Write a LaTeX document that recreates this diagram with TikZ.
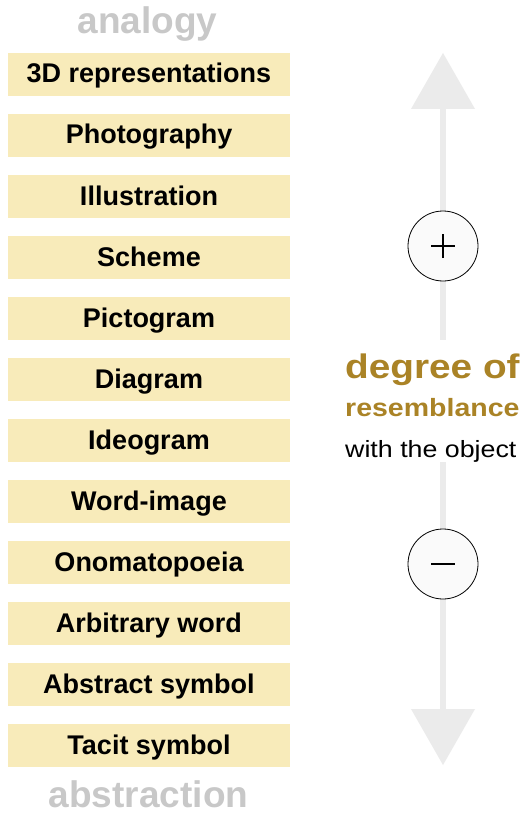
\documentclass[tikz,border=0pt]{standalone}
\usepackage{fontspec}
\setmainfont{Liberation Sans}
\newfontfamily\widesans[FakeStretch=1.14]{Liberation Sans}
\usepackage{xcolor}
\definecolor{butter}{RGB}{248,235,186}
\definecolor{ochre}{RGB}{170,131,38}
\definecolor{mist}{RGB}{200,200,200}
\definecolor{rail}{RGB}{235,235,235}
\definecolor{pearl}{RGB}{250,250,250}
\usepackage{tikz}
\usetikzlibrary{arrows.meta}
\tikzset{
  %% stacked category cards
  card/.style={fill=butter, minimum width=282pt, minimum height=43pt,
    inner sep=0pt, text height=20pt, text depth=3pt,
    font=\fontsize{27}{29}\selectfont\bfseries},
  %% end labels of the scale
  pole/.style={text=mist, anchor=base, inner sep=0pt,
    font=\fontsize{37}{40}\selectfont\bfseries},
  %% plus / minus discs
  knob/.style={circle, draw=black, line width=0.8pt, fill=pearl,
    minimum size=70pt, inner sep=0pt},
  sign/.style={line width=1.7pt, line cap=butt},
  scalearrow/.style={draw=rail, line width=6pt,
    >={Triangle[width=64pt,length=56pt,line width=0pt]}, <->},
  caption/.style={anchor=base west, fill=white, inner sep=0pt},
}

\begin{document}
\begin{tikzpicture}[x=1pt,y=-1pt]
\useasboundingbox[fill=white] (0,0) rectangle (521,813);

%% cards
\foreach \t [count=\i] in {3D representations, Photography, Illustration,
    Scheme, Pictogram, Diagram, Ideogram, Word-image, Onomatopoeia,
    Arbitrary word, Abstract symbol, Tacit symbol}
  \node[card] (card\i) at (149,{74.5+61*(\i-1)}) {\t};

\node[pole] (analogy) at (147.5,34) {analogy};
\node[pole] (abstraction) at (148.5,807) {abstraction};

%% scale
\coordinate (top) at (443,53);
\coordinate (bot) at (443,765);
\draw[scalearrow, fill=rail] (bot) -- (top);

\node[caption, text height=38pt, text depth=12pt, text=ochre,
      font=\widesans\bfseries\fontsize{34}{36}\selectfont]
  (degree) at (345,378) {degree of};
\node[caption, text height=26pt, text depth=15pt, text=ochre,
      font=\widesans\bfseries\fontsize{25}{27}\selectfont]
  (resemb) at (345,416) {resemblance};
\node[caption, text height=28pt, text depth=5pt,
      font=\widesans\fontsize{23.5}{25}\selectfont]
  (object) at (345,457) {with the object};

\node[knob] (more) at (443,246) {};
\node[knob] (less) at (443,564) {};
\draw[sign] ([xshift=-12pt]more.center) -- ([xshift=12pt]more.center);
\draw[sign] ([yshift=-12pt]more.center) -- ([yshift=12pt]more.center);
\draw[sign, line width=2.2pt] ([xshift=-12pt]less.center) -- ([xshift=12pt]less.center);
\end{tikzpicture}
\end{document}
